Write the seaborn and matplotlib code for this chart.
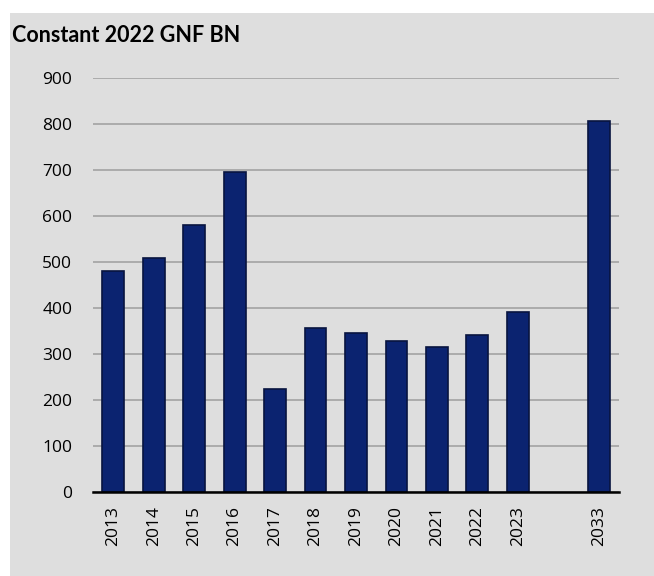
import pandas as pd
import matplotlib
matplotlib.use('Agg')
import matplotlib.pyplot as plt
import seaborn as sns
from matplotlib.patches import Rectangle

# 数据
years = ['2013', '2014', '2015', '2016', '2017', '2018', '2019',
         '2020', '2021', '2022', '2023', '2033']
values = [480, 509, 580, 696, 224, 357, 346, 328, 315, 341, 391, 807]
order = years[:11] + [' '] + years[11:]

df = pd.DataFrame({'year': years, 'value': values})

sns.set_theme(style='white')
plt.rcParams['font.family'] = ['Open Sans', 'DejaVu Sans']

fig = plt.figure(figsize=(6.54, 5.76), dpi=100)
fig.patch.set_facecolor('white')
# grey panel behind the chart
fig.patches.append(Rectangle((10 / 654, 0), 1, (576 - 13) / 576,
                             transform=fig.transFigure, facecolor='#dedede',
                             edgecolor='none', zorder=-10))

ax = fig.add_axes([93 / 654, 84 / 576, 526 / 654, 414 / 576])
ax.set_facecolor('none')

sns.barplot(data=df, x='year', y='value', order=order, ax=ax,
            color='#0b2370', saturation=1, width=0.54,
            edgecolor='#08143f', linewidth=1.2, zorder=3)

ax.set_ylim(0, 900)
ax.set_xlim(-0.5, len(order) - 0.5)
ax.set_yticks(range(0, 901, 100))
ax.yaxis.grid(True, color='#a3a3a3', linewidth=1.2, zorder=0)
ax.set_axisbelow(True)

for s in ['top', 'right', 'left']:
    ax.spines[s].set_visible(False)
ax.spines['bottom'].set_color('black')
ax.spines['bottom'].set_linewidth(1.8)
ax.spines['bottom'].set_zorder(5)

ax.tick_params(axis='y', length=0, pad=15, labelsize=12.5, labelcolor='black')
ax.tick_params(axis='x', length=0, pad=10, labelsize=12.5, labelcolor='black',
               labelrotation=90)
ax.set_xlabel('')
ax.set_ylabel('')

fig.text(12 / 654, 1 - 35 / 576, 'Constant 2022 GNF BN', fontsize=15.5,
         fontweight='bold', family=['Lato', 'DejaVu Sans'], va='center',
         ha='left', color='black')

fig.savefig('out.png', dpi=100)
plt.close(fig)
